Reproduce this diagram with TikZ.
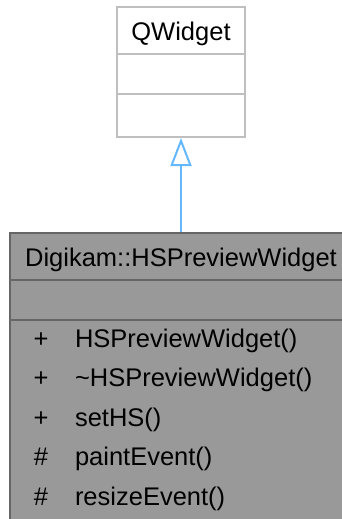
\documentclass[tikz,border=0pt]{standalone}
\usepackage{fontspec}
\setmainfont{Liberation Sans}
\usetikzlibrary{arrows.meta}
\definecolor{baseborder}{HTML}{BFBFBF}
\definecolor{mainfill}{HTML}{999999}
\definecolor{mainborder}{HTML}{666666}
\definecolor{inhcol}{HTML}{63B8FF}
\begin{document}
\begin{tikzpicture}[x=1pt,y=-1pt,
  lbl/.style={inner sep=0pt,outer sep=0pt,font=\fontsize{25.5}{30}\selectfont,text=black},
  basebox/.style={draw=baseborder,fill=white,line width=2pt,inner sep=0pt},
  mainbox/.style={draw=mainborder,fill=mainfill,line width=2pt,inner sep=0pt},
  inherit/.style={draw=inhcol,line width=2pt,-{Triangle[open,length=28pt,width=21pt,fill=white]}}]
\clip (0,0) rectangle (342,519);
\fill[white] (0,0) rectangle (342,519);
% base class
\node[basebox,minimum width=128pt,minimum height=130pt] (qw) at (181,72) {};
\draw[baseborder,line width=2pt] (117,54) coordinate (qd1) -- (245,54) coordinate (qd1e);
\draw[baseborder,line width=2pt] (117,94) coordinate (qd2) -- (245,94) coordinate (qd2e);
\node[lbl,anchor=base] (qwt) at (181,41) {QWidget};
% derived class
\node[mainbox,minimum width=342pt,minimum height=300pt] (hs) at (181,383) {};
\draw[mainborder,line width=2pt] (10,280) coordinate (hd1) -- (352,280) coordinate (hd1e);
\draw[mainborder,line width=2pt] (10,319.5) coordinate (hd2) -- (352,319.5) coordinate (hd2e);
\node[lbl,anchor=base] (hst) at (181,266.5) {Digikam::HSPreviewWidget};
\node[lbl,anchor=base] (v1) at (41,347.5) {+};
\node[lbl,anchor=base west] (m1) at (75,347.5) {HSPreviewWidget()};
\node[lbl,anchor=base] (v2) at (41,386.9) {+};
\node[lbl,anchor=base west] (m2) at (75,386.9) {\char`~HSPreviewWidget()};
\node[lbl,anchor=base] (v3) at (41,426.3) {+};
\node[lbl,anchor=base west] (m3) at (75,426.3) {setHS()};
\node[lbl,anchor=base] (v4) at (41,465.7) {\#};
\node[lbl,anchor=base west] (m4) at (75,465.7) {paintEvent()};
\node[lbl,anchor=base] (v5) at (41,505.1) {\#};
\node[lbl,anchor=base west] (m5) at (75,505.1) {resizeEvent()};
% inheritance
\draw[inherit] (hs.north) -- (qw.south);
\end{tikzpicture}
\end{document}
